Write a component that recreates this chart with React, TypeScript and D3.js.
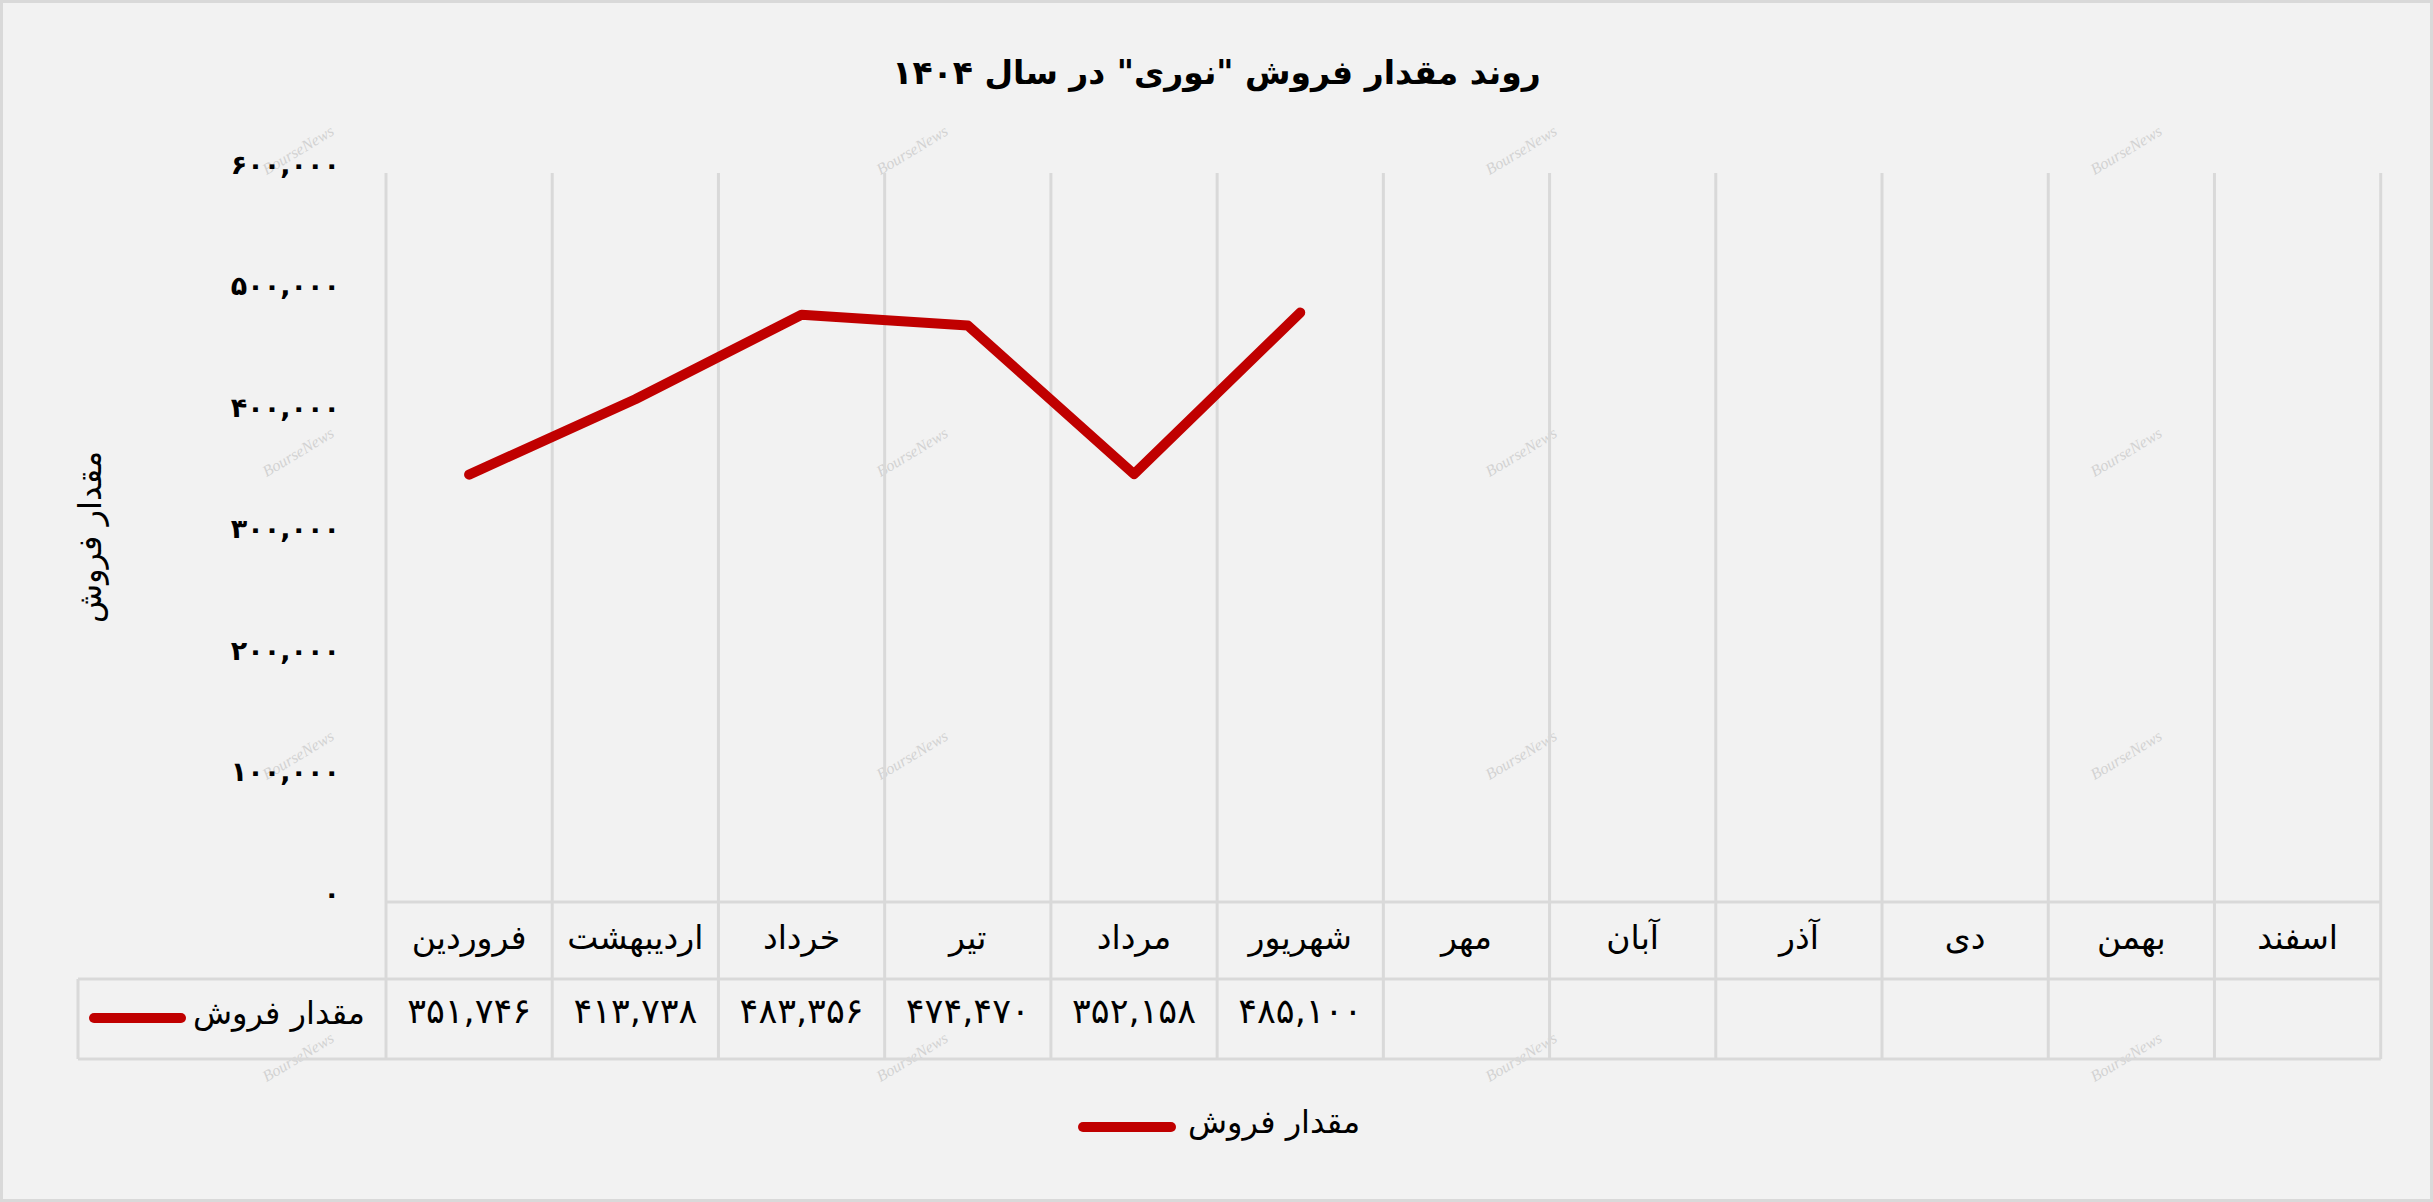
import React from "react";
import * as d3 from "d3";

const months = ["فروردین", "اردیبهشت", "خرداد", "تیر", "مرداد", "شهریور", "مهر", "آبان", "آذر", "دی", "بهمن", "اسفند"];
const sales = [351746, 413738, 483356, 474470, 352158, 485100];
const yTicks = [0, 100000, 200000, 300000, 400000, 500000, 600000];
const seriesName = "مقدار فروش";
const titleText = 'روند مقدار فروش "نوری" در سال ۱۴۰۴';
const yTitle = "مقدار فروش";
const watermarkX = [298, 912, 1521, 2126];
const watermarkY = [150, 452, 755, 1057];

const W = 2433;
const H = 1202;
const FONT = "'DejaVu Sans', sans-serif";
const RED = "#C00000";
const GRID = "#d9d9d9";

const fa = (s: string) => s.replace(/\d/g, (d) => "۰۱۲۳۴۵۶۷۸۹"[+d]);
const fmt = d3.format(",");

export default function App() {
  const x = d3.scaleBand<string>().domain(months).range([386, 2380.7]).padding(0);
  const y = d3.scaleLinear().domain([0, 600000]).range([902, 173]);
  const row1Bottom = 979;
  const row2Bottom = 1059;
  const tableLeft = 78;

  const line = d3
    .line<number>()
    .x((_, i) => (x(months[i]) as number) + x.bandwidth() / 2)
    .y((d) => y(d));

  const boundaries = months.map((m) => x(m) as number).concat([x.range()[1]]);

  return (
    <svg
      width={W}
      height={H}
      style={{ position: "fixed", left: 0, top: 0, display: "block" }}
      xmlns="http://www.w3.org/2000/svg"
    >
      <rect x={1.5} y={1.5} width={W - 3} height={H - 3} fill="#f2f2f2" stroke={GRID} strokeWidth={3} />

      {/* watermarks */}
      {watermarkY.map((wy) =>
        watermarkX.map((wx) => (
          <text
            key={`${wx}-${wy}`}
            transform={`translate(${wx},${wy}) rotate(-31)`}
            textAnchor="middle"
            dominantBaseline="central"
            fontFamily="'Liberation Serif', serif"
            fontStyle="italic"
            fontSize={16}
            fill="#d2d2d2"
          >
            BourseNews
          </text>
        ))
      )}

      {/* title */}
      <text x={W / 2} y={72} textAnchor="middle" dominantBaseline="central" fontFamily={FONT} fontWeight="bold" fontSize={33} fill="#000">
        {titleText}
      </text>

      {/* vertical gridlines */}
      {boundaries.map((bx, i) => (
        <line key={i} x1={bx} x2={bx} y1={173} y2={row2Bottom} stroke={GRID} strokeWidth={3} />
      ))}
      {/* table horizontal lines */}
      <line x1={x.range()[0]} x2={x.range()[1]} y1={y(0)} y2={y(0)} stroke={GRID} strokeWidth={3} />
      <line x1={tableLeft} x2={x.range()[1]} y1={row1Bottom} y2={row1Bottom} stroke={GRID} strokeWidth={3} />
      <line x1={tableLeft} x2={x.range()[1]} y1={row2Bottom} y2={row2Bottom} stroke={GRID} strokeWidth={3} />
      <line x1={tableLeft} x2={tableLeft} y1={row1Bottom} y2={row2Bottom} stroke={GRID} strokeWidth={3} />

      {/* y axis ticks */}
      {yTicks.map((t) => (
        <text key={t} x={340} y={y(t) - 9} textAnchor="end" dominantBaseline="central" fontFamily={FONT} fontWeight="bold" fontSize={27} fill="#000">
          {fa(fmt(t))}
        </text>
      ))}

      {/* y title */}
      <text transform="translate(90,537) rotate(-90)" textAnchor="middle" dominantBaseline="central" fontFamily={FONT} fontSize={32} fill="#000">
        {yTitle}
      </text>

      {/* line */}
      <path d={line(sales) || ""} fill="none" stroke={RED} strokeWidth={10} strokeLinecap="round" strokeLinejoin="round" />

      {/* category row */}
      {months.map((m) => (
        <text key={m} x={(x(m) as number) + x.bandwidth() / 2} y={937} textAnchor="middle" dominantBaseline="central" fontFamily={FONT} fontSize={33} fill="#000">
          {m}
        </text>
      ))}

      {/* values row */}
      <line x1={94} x2={181} y1={1018} y2={1018} stroke={RED} strokeWidth={10} strokeLinecap="round" />
      <text x={365} y={1013} textAnchor="end" dominantBaseline="central" fontFamily={FONT} fontSize={32} fill="#000">
        {seriesName}
      </text>
      {sales.map((v, i) => (
        <text key={i} x={(x(months[i]) as number) + x.bandwidth() / 2} y={1011} textAnchor="middle" dominantBaseline="central" fontFamily={FONT} fontSize={35} fill="#000">
          {fa(fmt(v))}
        </text>
      ))}

      {/* legend */}
      <line x1={1083} x2={1171} y1={1127} y2={1127} stroke={RED} strokeWidth={10} strokeLinecap="round" />
      <text x={1188} y={1122} textAnchor="start" dominantBaseline="central" fontFamily={FONT} fontSize={32} fill="#000">
        {seriesName}
      </text>
    </svg>
  );
}
